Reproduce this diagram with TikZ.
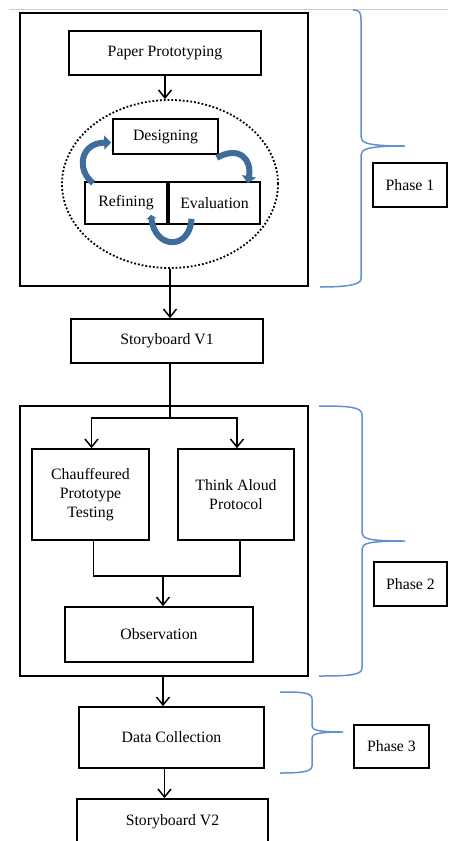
\documentclass[tikz,border=0pt]{standalone}
\usepackage{fontspec}
\setmainfont{Liberation Serif}
\usetikzlibrary{arrows.meta,shapes.geometric}
\definecolor{cyc}{RGB}{62,108,155}
\definecolor{brc}{RGB}{100,145,205}
\definecolor{topline}{RGB}{205,205,205}
\tikzset{
  box/.style={draw=black,line width=1.6pt,rectangle,inner sep=0pt,align=center,font=\fontsize{15.8}{19}\selectfont},
  frame/.style={draw=black,line width=1.6pt,rectangle,inner sep=0pt},
  conn/.style={draw=black,line width=1.5pt},
  arr/.style={conn,-{Straight Barb[length=8pt,width=13pt,line width=1.5pt]}},
  cyclearr/.style={draw=cyc,line width=6pt,-{Triangle[length=7pt,width=14pt]}},
  brace/.style={draw=brc,line width=1.5pt},
}
\begin{document}
\begin{tikzpicture}[x=1pt,y=-1pt]
\useasboundingbox (0,0) rectangle (448,841);
\clip (0,0) rectangle (448,841);
\fill[white] (0,0) rectangle (448,841);
\draw[topline,line width=0.8pt] (9,9) -- (448,9);

% Phase 1 frame
\node[frame,minimum width=288pt,minimum height=273pt] (outer1) at (164,149.5) {};
\node[box,minimum width=192pt,minimum height=44pt] (pp) at (165,53) {Paper Prototyping};
\node[draw=black,line width=1.8pt,dotted,ellipse,minimum width=216pt,minimum height=168pt,inner sep=0pt] (ell) at (170,184) {};
\node[box,minimum width=105pt,minimum height=35pt] (des) at (165.5,136.5) {Designing};
\node[box,minimum width=82pt,minimum height=42pt] (ref) at (126,203) {Refining};
\node[box,minimum width=91pt,minimum height=42pt] (eva) at (214.5,203) {Evaluation};

% cycle arrows
\draw[cyclearr] ([xshift=9pt,yshift=-2pt]ref.north west) .. controls (76,170) and (80,143) .. ([xshift=-1pt,yshift=-6pt]des.west);
\draw[cyclearr] ([xshift=-2pt,yshift=-3pt]des.south east) .. controls (240,145) and (252,160) .. ([xshift=-13pt,yshift=-2pt]eva.north east);
\draw[cyclearr,-{Triangle[length=4pt,width=10pt]}] ([xshift=-23pt,yshift=6pt]eva.south) .. controls (190,250) and (155,250) .. ([xshift=25pt,yshift=10pt]ref.south);

% Phase 2
\node[box,minimum width=192pt,minimum height=44pt] (sb1) at (167,341) {Storyboard V1};
\node[frame,minimum width=288pt,minimum height=270pt] (outer2) at (164,541) {};
\node[box,minimum width=117pt,minimum height=91pt] (cpt) at (90.5,494.5) {Chauffeured\\Prototype\\Testing};
\node[box,minimum width=116pt,minimum height=91pt] (tap) at (236,494.5) {Think Aloud\\Protocol};
\node[box,minimum width=188pt,minimum height=55pt] (obs) at (159,634.5) {Observation};
\node[box,minimum width=185pt,minimum height=61pt] (dc) at (171.5,737.5) {Data Collection};
\node[box,minimum width=191pt,minimum height=60pt] (sb2) at (172.5,829) {};
\node[font=\fontsize{15.8}{19}\selectfont,inner sep=0pt] (sb2t) at (172.5,822) {Storyboard V2};

% phase labels
\node[box,minimum width=74pt,minimum height=44pt] (p1) at (410,185) {Phase 1};
\node[box,minimum width=73pt,minimum height=44pt] (p2) at (410.5,584) {Phase 2};
\node[box,minimum width=75pt,minimum height=43pt] (p3) at (391.5,746.5) {Phase 3};

% connectors
\coordinate (br1) at (170,418);
\coordinate (jn) at (163,576);
\draw[arr] (pp.south) -- (pp.south |- ell.north);
\draw[arr] (ell.south) -- (ell.south |- sb1.north);
\draw[conn] (sb1.south -| br1) -- (br1);
\draw[arr] (br1) -| ([xshift=1pt]cpt.north);
\draw[arr] (br1) -| ([xshift=1pt]tap.north);
\draw[conn] ([xshift=3pt]cpt.south) |- (jn);
\draw[conn] ([xshift=4pt]tap.south) |- (jn);
\draw[arr] (jn) -- (jn |- obs.north);
\draw[arr] (outer2.south -| jn) -- (jn |- dc.north);
\draw[arr] ([xshift=-7pt]dc.south) -- ([xshift=-7pt]dc.south |- sb2.north);

% braces
\draw[brace] (353,10) .. controls (360,10) and (361,13) .. (361,20) -- (361,137)
  .. controls (361,143) and (368,146) .. (405,146)
  .. controls (368,146) and (361,149) .. (361,155) -- (361,279)
  .. controls (361,285) and (345,287) .. (320,287);
\draw[brace] (319,406) .. controls (350,406) and (362,407) .. (362,415) -- (362,533)
  .. controls (362,539) and (370,541) .. (405,541)
  .. controls (370,541) and (362,543) .. (362,549) -- (362,668)
  .. controls (362,675) and (350,676) .. (319,676);
\draw[brace] (280,692) .. controls (300,692) and (312,692) .. (312,699) -- (312,726)
  .. controls (312,730) and (318,732) .. (343,732)
  .. controls (318,732) and (312,734) .. (312,738) -- (312,766)
  .. controls (312,772) and (300,773) .. (280,773);
\end{tikzpicture}
\end{document}
